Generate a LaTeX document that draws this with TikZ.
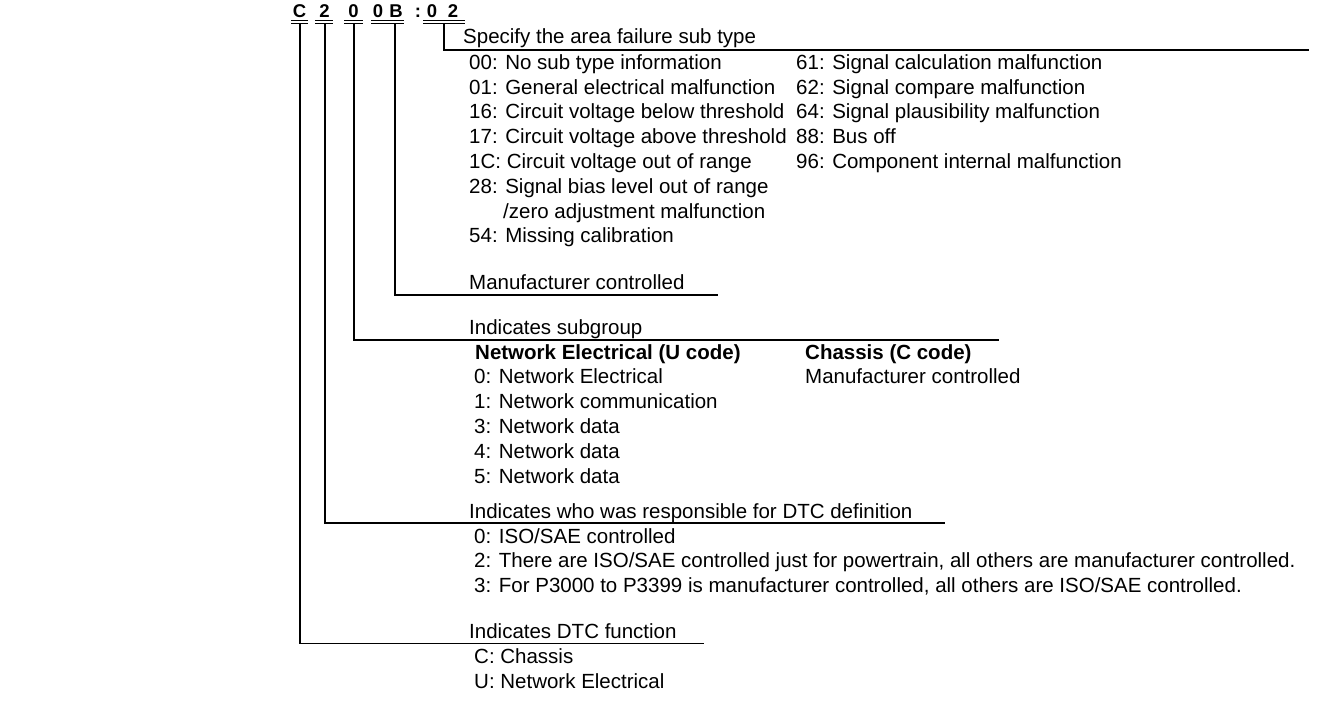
\documentclass[tikz,border=0pt]{standalone}
\usepackage{fontspec}
\setmainfont{Liberation Sans}
\begin{document}
\begin{tikzpicture}[x=1pt,y=-1pt,
  txt/.style={anchor=base west, inner sep=0pt, font=\fontsize{20.5}{24.6}\selectfont},
  btxt/.style={txt, font=\fontsize{20.5}{24.6}\selectfont\bfseries},
  hdr/.style={anchor=base, inner sep=0pt, font=\fontsize{18.5}{20}\selectfont\bfseries},
  conn/.style={line width=1.3pt},
  uline/.style={line width=1.1pt}]
\useasboundingbox (0,0) rectangle (1339,718);

% header code
\node[hdr] (hC)  at (299.5,17.5) {C};
\node[hdr] (h2)  at (324.5,17.5) {2};
\node[hdr] (h0)  at (353.5,17.5) {0};
\node[hdr] (h0b) at (378,17.5) {0};
\node[hdr] (hB)  at (396,17.5) {B};
\node[hdr] (hcl) at (418,17.5) {:};
\node[hdr] (h0c) at (432,17.5) {0};
\node[hdr] (h2b) at (453,17.5) {2};

% double underlines
\foreach \a/\b in {291/308,315/333,344/363,371/404,423/465}{
  \draw[uline] (\a,20.2) -- (\b,20.2);
  \draw[uline] (\a,23.6) -- (\b,23.6);
}

% connector start and end points
\coordinate (sC)  at (300,23.6);  \coordinate (eC)  at (704,643.5);
\coordinate (s2)  at (325,23.6);  \coordinate (e2)  at (945,523);
\coordinate (s0)  at (354,23.6);  \coordinate (e0)  at (999,340);
\coordinate (sB)  at (395,23.6);  \coordinate (eB)  at (718,295);
\coordinate (s02) at (444,23.6);  \coordinate (e02) at (1309,50);

\draw[conn] (sC)  |- (eC);
\draw[conn] (s2)  |- (e2);
\draw[conn] (s0)  |- (e0);
\draw[conn] (sB)  |- (eB);
\draw[conn] (s02) |- (e02);

% sub type section
\node[txt] (tSub) at (463,43.3) {Specify the area failure sub type};
\node[txt] (a00) at (469,69.3)  {00: No sub type information};
\node[txt] (a01) at (469,94.1)  {01: General electrical malfunction};
\node[txt] (a16) at (469,118.9) {16: Circuit voltage below threshold};
\node[txt] (a17) at (469,143.7) {17: Circuit voltage above threshold};
\node[txt] (a1C) at (469,168.5) {1C: Circuit voltage out of range};
\node[txt] (a28) at (469,193.3) {28: Signal bias level out of range};
\node[txt] (a28b) at (503,218.1) {/zero adjustment malfunction};
\node[txt] (a54) at (469,242.9) {54: Missing calibration};
\node[txt] (a61) at (796,69.3)  {61: Signal calculation malfunction};
\node[txt] (a62) at (796,94.1)  {62: Signal compare malfunction};
\node[txt] (a64) at (796,118.9) {64: Signal plausibility malfunction};
\node[txt] (a88) at (796,143.7) {88: Bus off};
\node[txt] (a96) at (796,168.5) {96: Component internal malfunction};

% manufacturer
\node[txt] (tMan) at (469,289.3) {Manufacturer controlled};

% subgroup
\node[txt] (tGrp) at (469,334.3) {Indicates subgroup};
\node[btxt] (gU) at (475,359.3) {Network Electrical (U code)};
\node[btxt] (gC) at (805,359.3) {Chassis (C code)};
\node[txt] (g0) at (474,383.3) {0: Network Electrical};
\node[txt] (g1) at (474,408.3) {1: Network communication};
\node[txt] (g3) at (474,433.3) {3: Network data};
\node[txt] (g4) at (474,458.3) {4: Network data};
\node[txt] (g5) at (474,483.3) {5: Network data};
\node[txt] (gM) at (805,383.3) {Manufacturer controlled};

% responsible
\node[txt] (tResp) at (469,518.3) {Indicates who was responsible for DTC definition};
\node[txt] (r0) at (474,543.3) {0: ISO/SAE controlled};
\node[txt] (r2) at (474,567.8) {2: There are ISO/SAE controlled just for powertrain, all others are manufacturer controlled.};
\node[txt] (r3) at (474,592.3) {3: For P3000 to P3399 is manufacturer controlled, all others are ISO/SAE controlled.};

% function
\node[txt] (tFun) at (469,638.3) {Indicates DTC function};
\node[txt] (fC) at (474,663.3) {C: Chassis};
\node[txt] (fU) at (474,688.3) {U: Network Electrical};
\end{tikzpicture}
\end{document}
